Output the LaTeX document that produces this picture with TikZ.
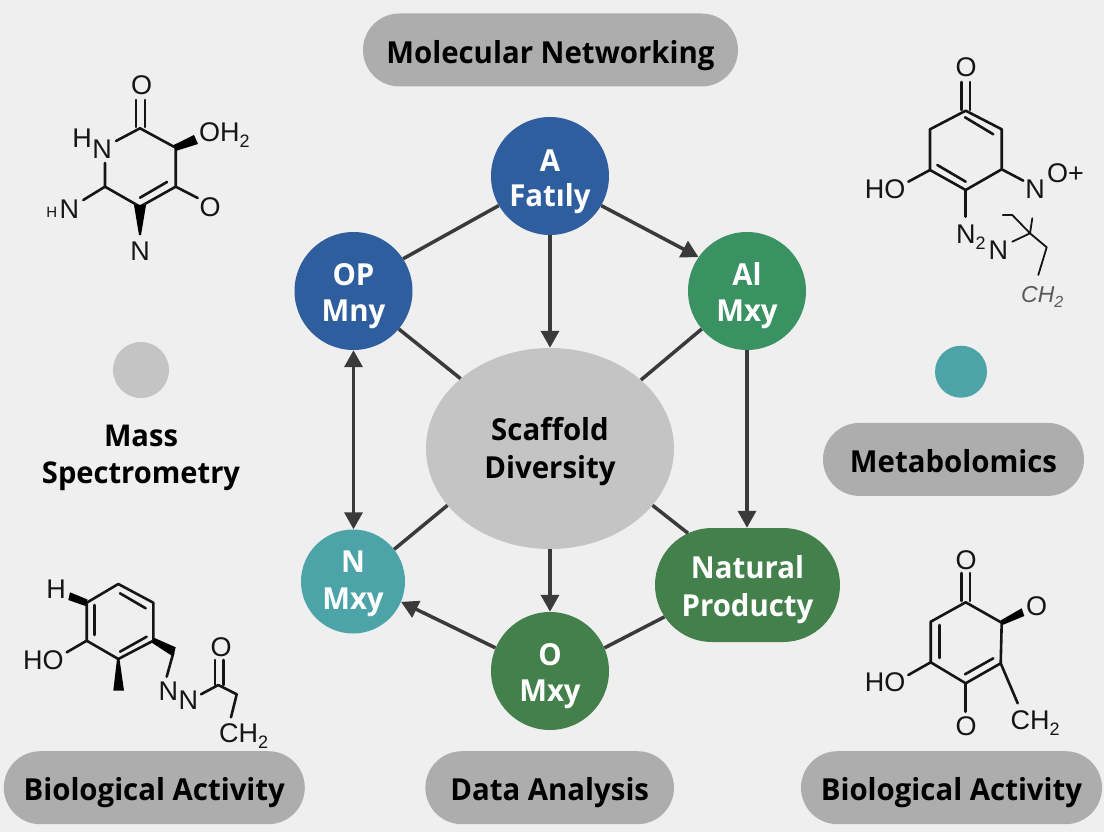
\documentclass[tikz,border=0pt]{standalone}
\usepackage{fontspec}
\setmainfont{Open Sans}
\newfontfamily\chemfont{Liberation Sans}
\newfontfamily\labelfont[FakeStretch=0.97]{Open Sans}
\usetikzlibrary{arrows.meta,shapes.geometric,shapes.misc}
\definecolor{bgc}{HTML}{EFEFEF}
\definecolor{bluec}{HTML}{2F5E9E}
\definecolor{greenc}{HTML}{3A9161}
\definecolor{darkgreen}{HTML}{44804B}
\definecolor{tealc}{HTML}{4CA4A8}
\definecolor{lightgray}{HTML}{C4C4C4}
\definecolor{pillgray}{HTML}{ADADAD}
\definecolor{linkc}{HTML}{3A3A3A}
\definecolor{inkc}{HTML}{151515}
\newcommand\twolines[4]{\smash{\makebox[0pt]{\raisebox{#3pt}{#1}}\makebox[0pt]{\raisebox{#4pt}{#2}}}}
\newcommand\pilltext[1]{\raisebox{-13.2pt}[0pt][0pt]{#1}}
\newcommand\subdig[1]{\raisebox{-6pt}{\fontsize{18}{18}\selectfont #1}}
\tikzset{
  x=1pt,y=-1pt,
  labelsize/.style={font=\labelfont\bfseries\fontsize{30.3}{30}\selectfont},
  hub/.style={circle,inner sep=0pt,minimum size=118pt,text=white,labelsize},
  pill/.style={rounded rectangle,rounded rectangle arc length=180,fill=pillgray,inner sep=0pt,text=black,labelsize},
  link/.style={draw=linkc,line width=3.5pt},
  tip/.style={-{Triangle[length=17pt,width=18pt]}},
  bitip/.style={{Triangle[length=17pt,width=18pt]}-{Triangle[length=17pt,width=18pt]}},
  bond/.style={draw=inkc,line width=2.6pt,line cap=round,line join=round},
  thinbond/.style={draw=inkc,line width=1.8pt,line cap=round,line join=round},
  wedge/.style={fill=black,draw=none},
  atom/.style={inner sep=0pt,text=inkc,font=\chemfont\fontsize{27}{27}\selectfont},
  atomw/.style={atom,anchor=base west},
}
\begin{document}
\begin{tikzpicture}
\useasboundingbox (0,0) rectangle (1104,832);
\fill[bgc] (0,0) rectangle (1104,832);

% central network
\node[ellipse,fill=lightgray,inner sep=0pt,minimum width=248pt,minimum height=201pt,text=black,labelsize] (S) at (550,448.5) {\twolines{Scaffold}{Diversity}{7.8}{-29.8}};
\node[hub,fill=bluec] (A) at (550,176) {\twolines{A}{Fatıly}{4}{-31}};
\node[hub,fill=bluec] (OP) at (353.5,291) {\twolines{OP}{Mny}{6}{-30.7}};
\node[hub,fill=greenc] (Al) at (747,291) {\twolines{Al}{Mxy}{6}{-30.7}};
\node[hub,fill=tealc,minimum size=104pt] (N) at (353,581.5) {\twolines{N}{Mxy}{9.2}{-27.8}};
\node[hub,fill=darkgreen] (O) at (550,671) {\twolines{O}{Mxy}{6}{-30.7}};
\node[rounded rectangle,rounded rectangle arc length=180,fill=darkgreen,inner sep=0pt,minimum width=185pt,minimum height=114pt,text=white,labelsize] (NP) at (747.5,585) {\twolines{Natural}{Producty}{6.7}{-31}};

\draw[link] (A.210) -- (OP.33);
\draw[link,tip] (A.-30) -- (Al.145);
\draw[link,tip] (A.south) -- (S.north);
\draw[link] (OP.-40) -- (S.142.6);
\draw[link] (Al.-140) -- (S.37.4);
\draw[link,bitip] (OP.south) -- (N.north -| OP.south);
\draw[link,tip] (Al.south) -- (Al.south |- NP.north);
\draw[link] (S.209.4) -- (N.38);
\draw[link] (S.-29.4) -- (NP.139);
\draw[link,tip] (S.south) -- (O.north);
\draw[link,tip] (O.157.5) -- (N.-23);
\draw[link] (O.23) -- (NP.201);

% label pills
\node[pill,minimum width=375pt,minimum height=73pt] (pMN) at (550.5,50) {\pilltext{Molecular Networking}};
\node[pill,minimum width=261pt,minimum height=73pt] (pMB) at (953.5,459.4) {\pilltext{Metabolomics}};
\node[pill,minimum width=301pt,minimum height=73pt] (pBL) at (154.3,787.7) {\pilltext{Biological Activity}};
\node[pill,minimum width=248.6pt,minimum height=73pt] (pDA) at (549.7,787.7) {\pilltext{Data Analysis}};
\node[pill,minimum width=301pt,minimum height=73pt] (pBR) at (951.5,787.7) {\pilltext{Biological Activity}};

% mass spectrometry
\node[circle,fill=lightgray,inner sep=0pt,minimum size=56pt] (dotM) at (141,370) {};
\node[inner sep=0pt,text=black,font=\labelfont\bfseries\fontsize{30}{30}\selectfont,anchor=base] (tMass) at (141,446) {Mass};
\node[inner sep=0pt,text=black,font=\labelfont\bfseries\fontsize{30}{30}\selectfont,anchor=base] (tSpec) at (141,483) {Spectrometry};
\node[circle,fill=tealc,inner sep=0pt,minimum size=52pt] (dotT) at (961,371.7) {};

% molecule top left
\draw[bond] (116,141) -- (140,128.3) -- (175.7,147.7) -- (175.7,186.7) -- (140,206.7) -- (105,186.7) -- (105,163);
\draw[bond] (136,100) -- (136,127) (145,100) -- (145,127);
\draw[bond] (167,182) -- (140,197.7);
\draw[bond] (175.7,186.7) -- (197.7,198);
\draw[bond] (105,186.7) -- (83.3,200);
\fill[wedge] (175.7,151) -- (173.7,145) -- (194,135) -- (198,144) -- cycle;
\fill[wedge] (134,205) -- (146,205) -- (141,235) -- (139,235) -- cycle;
\node[atom] (a1) at (141.5,85) {O};
\node[atom] (a2) at (82,138) {H};
\node[atom] (a3) at (102,149) {N};
\node[atomw] (a4) at (199,141.5) {OH\subdig{2}};
\node[atom] (a5) at (210,207.7) {O};
\node[atom] (a6) at (140,251.7) {N};
\node[atom,font=\chemfont\fontsize{15}{15}\selectfont] (a7) at (51.7,212) {H};
\node[atom] (a8) at (69.3,209) {N};

% molecule top right
\draw[bond] (965.7,110.7) -- (1001.7,129.3) -- (1001.7,169.3) -- (965.7,190) -- (930,170) -- (930,129.3) -- cycle;
\draw[bond] (961.7,82) -- (961.7,110) (970,82) -- (970,110);
\draw[bond] (965,117.3) -- (993.3,134.3);
\draw[bond] (937.3,165) -- (965.7,181.7);
\draw[bond] (930,170) -- (908.3,181.7);
\draw[bond] (1001.7,169.3) -- (1023.3,180.7);
\draw[bond] (965.7,190) -- (965.7,216.7);
\draw[thinbond] (1012.3,241.7) -- (1030,233.3) -- (1032.3,218.3);
\draw[thinbond] (1002.7,215) -- (1012.3,215) -- (1030,233.3) -- (1046.7,247.3) -- (1038.3,275);
\node[atom] (b1) at (966,67.3) {O};
\node[atom] (b2) at (885,189) {HO};
\node[atom] (b3) at (1035,189.3) {N};
\node[atomw] (b4) at (1047,182.5) {O+};
\node[atomw] (b5) at (956,243.5) {N\subdig{2}};
\node[atom] (b6) at (998.3,250) {N};
\node[atomw,text=black!65,font=\chemfont\itshape\fontsize{23}{23}\selectfont] (b7) at (1021,302) {CH\raisebox{-5pt}{\fontsize{16}{16}\selectfont 2}};

% molecule bottom left
\draw[bond] (86.7,602.7) -- (118.3,584) -- (153.3,602.7) -- (153.3,640.7) -- (118.3,659) -- (86.7,640.7) -- cycle;
\draw[bond] (94.3,605) -- (94.3,635);
\draw[bond] (120,593.3) -- (145.7,608.3);
\draw[bond] (146.7,636.7) -- (120,651.7);
\draw[bond] (86.7,640.7) -- (66.7,652.3);
\draw[bond] (173.3,653) -- (166.7,676.7);
\draw[bond] (201,694.3) -- (218.3,685) -- (236.7,694.3) -- (231,717.3);
\draw[bond] (215,685) -- (215,660) (223.3,685) -- (223.3,660);
\fill[wedge] (87.5,599.5) -- (85.5,606) -- (68.3,600) -- (70,592.3) -- cycle;
\fill[wedge] (117,659) -- (119.5,659) -- (124,690.7) -- (113.3,690.7) -- cycle;
\fill[wedge] (154.5,638) -- (151.5,642.5) -- (173.3,656.7) -- (175.7,647.3) -- cycle;
\node[atom] (c1) at (56,589.3) {H};
\node[atom] (c2) at (43.3,660) {HO};
\node[atom] (c3) at (168.3,691.7) {N};
\node[atom] (c4) at (188.3,700.7) {N};
\node[atom] (c5) at (221,647.3) {O};
\node[atomw] (c6) at (219,742.7) {CH\subdig{2}};

% molecule bottom right
\draw[bond] (965.7,602.3) -- (1001.7,622.7) -- (1000.7,663.3) -- (965.7,683.3) -- (930.7,662.3) -- (930.7,621.7) -- cycle;
\draw[bond] (961.7,573) -- (961.7,601) (970,573) -- (970,601);
\draw[bond] (939.3,625) -- (939.3,658);
\draw[bond] (993.3,658.3) -- (965,674.3);
\draw[bond] (930.7,662.3) -- (908.3,675);
\draw[bond] (965.7,683.3) -- (965.7,711.7);
\draw[bond] (1000.7,663.3) -- (1017.7,703.3);
\fill[wedge] (1000.5,620.5) -- (1002.5,625) -- (1024.3,616) -- (1021.7,608.3) -- cycle;
\node[atom] (d1) at (966,560) {O};
\node[atom] (d2) at (1036.7,606) {O};
\node[atom] (d3) at (885,682.7) {HO};
\node[atom] (d4) at (966,726.7) {O};
\node[atomw] (d5) at (1010.5,729.5) {CH\subdig{2}};
\end{tikzpicture}
\end{document}
